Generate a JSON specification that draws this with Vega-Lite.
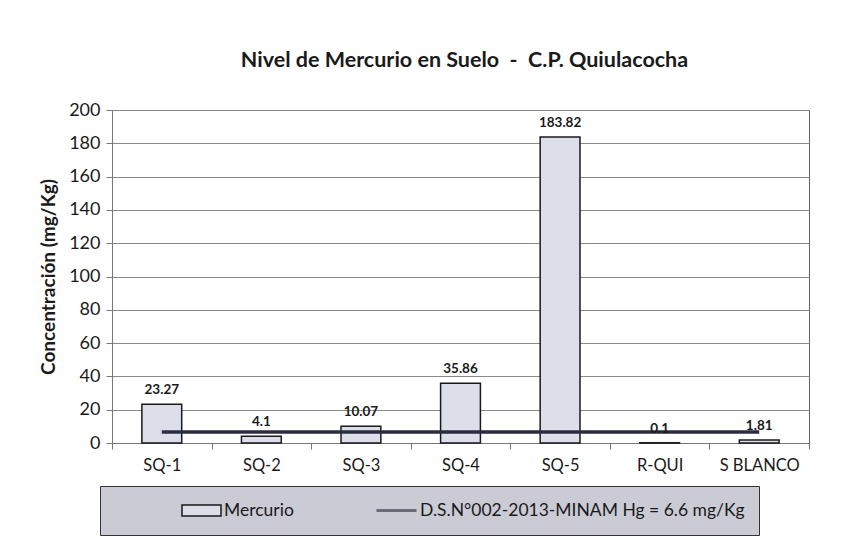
{
  "$schema": "https://vega.github.io/schema/vega-lite/v6.json",
  "width": 697,
  "height": 333,
  "autosize": {"type": "none"},
  "padding": {"left": 112, "top": 110, "right": 32, "bottom": 110},
  "background": "#ffffff",
  "title": {
    "text": "Nivel de Mercurio en Suelo\u00a0\u00a0-\u00a0\u00a0C.P. Quiulacocha",
    "font": "Lato",
    "fontSize": 21.5,
    "fontWeight": "bold",
    "color": "#1a1a1a",
    "anchor": "middle",
    "dx": 4,
    "offset": 30
  },
  "data": {
    "values": [
      {"muestra": "SQ-1", "hg": 23.27, "limite": 6.6},
      {"muestra": "SQ-2", "hg": 4.1, "limite": 6.6},
      {"muestra": "SQ-3", "hg": 10.07, "limite": 6.6},
      {"muestra": "SQ-4", "hg": 35.86, "limite": 6.6},
      {"muestra": "SQ-5", "hg": 183.82, "limite": 6.6},
      {"muestra": "R-QUI", "hg": 0.1, "limite": 6.6},
      {"muestra": "S BLANCO", "hg": 1.81, "limite": 6.6}
    ]
  },
  "encoding": {
    "x": {
      "field": "muestra",
      "type": "nominal",
      "sort": null,
      "scale": {"paddingInner": 0, "paddingOuter": 0},
      "axis": {
        "title": null,
        "labelAngle": 0,
        "labelFont": "Lato",
        "labelFontSize": 16.5,
        "labelColor": "#1a1a1a",
        "labelPadding": 8,
        "tickBand": "extent",
        "tickSize": 6,
        "tickColor": "#777777",
        "domainColor": "#777777",
        "grid": false
      }
    },
    "y": {
      "field": "hg",
      "type": "quantitative",
      "scale": {"domain": [0, 200], "nice": false},
      "axis": {
        "title": "Concentración (mg/Kg)",
        "titleFont": "Lato",
        "titleFontSize": 19,
        "titleFontWeight": "bold",
        "titleColor": "#1a1a1a",
        "titlePadding": 10,
        "values": [0, 20, 40, 60, 80, 100, 120, 140, 160, 180, 200],
        "tickCount": 12,
        "labelOverlap": false,
        "labelFont": "Lato",
        "labelFontSize": 18,
        "labelColor": "#1a1a1a",
        "labelPadding": 6,
        "tickSize": 6,
        "tickColor": "#777777",
        "domainColor": "#777777",
        "gridColor": "#8a8a8a",
        "gridWidth": 1
      }
    }
  },
  "layer": [
    {
      "mark": {"type": "bar", "width": {"band": 0.4}, "stroke": "#1a1a1a", "strokeWidth": 1.5},
      "encoding": {
        "fill": {
          "datum": "Mercurio",
          "type": "nominal",
          "scale": {"domain": ["Mercurio"], "range": ["#dcdeea"]},
          "legend": {
            "title": null,
            "orient": "none",
            "zindex": 3,
            "legendX": 69,
            "legendY": 390,
            "padding": 0,
            "fillColor": "transparent",
            "strokeColor": "transparent",
            "symbolType": "M-1,-0.28H1V0.28H-1Z",
            "symbolSize": 1521,
            "symbolStrokeColor": "#1a1a1a",
            "symbolStrokeWidth": 1.5,
            "symbolOpacity": 1,
            "clipHeight": 21,
            "labelOffset": 2,
            "labelFont": "Lato",
            "labelFontSize": 17.5,
            "labelColor": "#1a1a1a"
          }
        }
      }
    },
    {
      "mark": {"type": "line", "strokeWidth": 3.5},
      "encoding": {
        "y": {"field": "limite", "type": "quantitative"},
        "color": {
          "datum": "D.S.N°002-2013-MINAM Hg = 6.6 mg/Kg",
          "type": "nominal",
          "scale": {"domain": ["D.S.N°002-2013-MINAM Hg = 6.6 mg/Kg"], "range": ["#2a2d40"]},
          "legend": {
            "title": null,
            "orient": "none",
            "zindex": 1,
            "legendX": -12,
            "legendY": 376,
            "padding": 14,
            "fillColor": "#cbcbd5",
            "strokeColor": "#333333",
            "symbolType": "stroke",
            "symbolSize": 1600,
            "symbolStrokeWidth": 3,
            "symbolOpacity": 0.6,
            "symbolOffset": 261,
            "clipHeight": 21,
            "labelOffset": 2,
            "labelLimit": 500,
            "labelFont": "Lato",
            "labelFontSize": 17.5,
            "labelColor": "#1a1a1a"
          }
        }
      }
    },
    {
      "mark": {"type": "text", "dy": -14, "font": "Lato", "fontSize": 13.5, "fontWeight": "bold", "color": "#1a1a1a"},
      "encoding": {
        "text": {"field": "hg", "type": "nominal"}
      }
    }
  ],
  "config": {
    "view": {"stroke": "#666666", "strokeWidth": 1}
  }
}
